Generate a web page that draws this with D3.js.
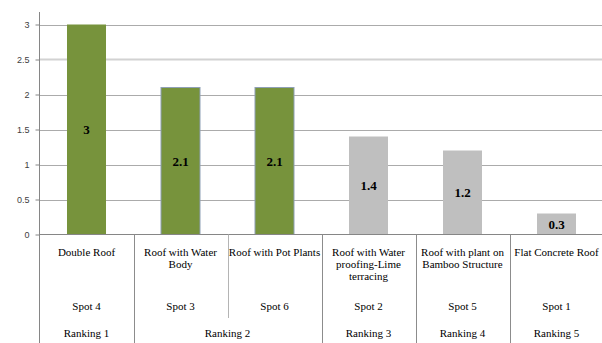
<!DOCTYPE html>
<html>
<head>
<meta charset="utf-8">
<script src="https://cdn.jsdelivr.net/npm/d3@7"></script>
<style>
  html, body { margin: 0; padding: 0; background: #fff; }
  svg { display: block; }
  .serif { font-family: "Liberation Serif", "Times New Roman", Times, "DejaVu Serif", serif; }
  .sans { font-family: "Liberation Sans", Arial, sans-serif; }
</style>
</head>
<body>
<svg id="chart" width="602" height="343"></svg>
<script>
// Roof type scores with their spot and ranking
const categories = [
  "Double Roof",
  "Roof with Water Body",
  "Roof with Pot Plants",
  "Roof with Water proofing-Lime terracing",
  "Roof with plant on Bamboo Structure",
  "Flat Concrete Roof"
];
const values = [3, 2.1, 2.1, 1.4, 1.2, 0.3];
const spots = ["Spot 4", "Spot 3", "Spot 6", "Spot 2", "Spot 5", "Spot 1"];
const rankings = ["Ranking 1", "Ranking 2", "Ranking 2", "Ranking 3", "Ranking 4", "Ranking 5"];
const yTicks = [0, 0.5, 1, 1.5, 2, 2.5, 3];
const yTickLabels = ["0", "0.5", "1", "1.5", "2", "2.5", "3"];

const svg = d3.select("#chart");
const W = 602, H = 343;
const plotLeft = 39.5, plotRight = 603.5, plotTop = 24.5, base = 234.5;

const x = d3.scaleBand().domain(d3.range(categories.length)).range([plotLeft, plotRight]).padding(0);
const y = d3.scaleLinear().domain([0, 3]).range([base, plotTop]);

// ranks 1-2 are highlighted in green
const color = d3.scaleOrdinal()
  .domain(["Ranking 1", "Ranking 2", "Ranking 3", "Ranking 4", "Ranking 5"])
  .range(["#77933c", "#77933c", "#bfbfbf", "#bfbfbf", "#bfbfbf"]);

// gridlines
svg.append("g")
  .selectAll("line")
  .data(yTicks.filter(d => d > 0))
  .join("line")
  .attr("x1", plotLeft).attr("x2", W)
  .attr("y1", d => Math.round(y(d)) + 0.5).attr("y2", d => Math.round(y(d)) + 0.5)
  .attr("stroke", d => d === 2.5 ? "#d2d2d2" : "#ababab")
  .attr("stroke-width", d => d === 2.5 ? 2 : 1);

// y axis
const yAxis = d3.axisLeft(y)
  .tickValues(yTicks)
  .tickFormat((d, i) => yTickLabels[i])
  .tickSize(4)
  .tickPadding(6);
const ga = svg.append("g").attr("transform", `translate(${plotLeft},0)`).call(yAxis);
ga.attr("font-family", null).attr("font-size", null);
ga.select(".domain").remove();
ga.selectAll(".tick line").attr("stroke", "#868686");
ga.selectAll(".tick text")
  .attr("class", "sans")
  .attr("fill", "#404040")
  .style("font-size", "9px");
svg.append("line")
  .attr("x1", plotLeft).attr("x2", plotLeft).attr("y1", 12).attr("y2", H)
  .attr("stroke", "#868686");

// bars
const barW = x.bandwidth() * 0.415;
const barX = i => x(i) + (x.bandwidth() - barW) / 2;
svg.append("g")
  .selectAll("rect")
  .data(values)
  .join("rect")
  .attr("x", (d, i) => barX(i))
  .attr("y", d => y(d))
  .attr("width", barW)
  .attr("height", d => base - y(d))
  .attr("fill", (d, i) => color(rankings[i]))
  .attr("stroke", (d, i) => rankings[i] === "Ranking 2" ? "#8fa0b6" : "none")
  .attr("stroke-width", 1);

// value labels centered in the bars
svg.append("g")
  .selectAll("text")
  .data(values)
  .join("text")
  .attr("class", "serif")
  .attr("x", (d, i) => x(i) + x.bandwidth() / 2)
  .attr("y", d => (y(d) + base) / 2)
  .attr("dy", "0.35em")
  .attr("text-anchor", "middle")
  .style("font-weight", "bold")
  .style("font-size", "13px")
  .attr("fill", "#000")
  .text(d => d);

// x axis baseline
svg.append("line")
  .attr("x1", plotLeft).attr("x2", W).attr("y1", base).attr("y2", base)
  .attr("stroke", "#868686");

// category boundaries: full height at ranking-group edges, shorter inside a group
const edges = d3.range(1, categories.length).map(i => ({
  x: Math.round(x(i)) + 0.5,
  full: rankings[i] !== rankings[i - 1]
}));
svg.append("g")
  .selectAll("line")
  .data(edges)
  .join("line")
  .attr("x1", d => d.x).attr("x2", d => d.x)
  .attr("y1", base).attr("y2", d => d.full ? H : 318)
  .attr("stroke", d => d.full ? "#8c8c8c" : "#b4b4b4");

// wrapped category names
const nameG = svg.append("g");
categories.forEach((name, i) => {
  const cx = x(i) + x.bandwidth() / 2;
  const t = nameG.append("text")
    .attr("class", "serif")
    .attr("x", cx).attr("y", 256)
    .attr("text-anchor", "middle")
    .style("font-size", "11px")
    .attr("fill", "#000");
  const words = name.split(" ");
  let line = [];
  let lineNo = 0;
  let tspan = t.append("tspan").attr("x", cx).attr("y", 256);
  words.forEach(w => {
    line.push(w);
    tspan.text(line.join(" "));
    if (tspan.node().getComputedTextLength() > 96 && line.length > 1) {
      line.pop();
      tspan.text(line.join(" "));
      line = [w];
      lineNo++;
      tspan = t.append("tspan").attr("x", cx).attr("y", 256 + lineNo * 12).text(w);
    }
  });
});

// spot row
svg.append("g")
  .selectAll("text")
  .data(spots)
  .join("text")
  .attr("class", "serif")
  .attr("x", (d, i) => x(i) + x.bandwidth() / 2)
  .attr("y", 310)
  .attr("text-anchor", "middle")
  .style("font-size", "11px")
  .attr("fill", "#000")
  .text(d => d);

// ranking row, one label per group
const groups = [];
rankings.forEach((r, i) => {
  const g = groups[groups.length - 1];
  if (g && g.name === r) g.end = i; else groups.push({ name: r, start: i, end: i });
});
svg.append("g")
  .selectAll("text")
  .data(groups)
  .join("text")
  .attr("class", "serif")
  .attr("x", d => (x(d.start) + x(d.end) + x.bandwidth()) / 2)
  .attr("y", 337)
  .attr("text-anchor", "middle")
  .style("font-size", "11px")
  .attr("fill", "#000")
  .text(d => d.name);
</script>
</body>
</html>
